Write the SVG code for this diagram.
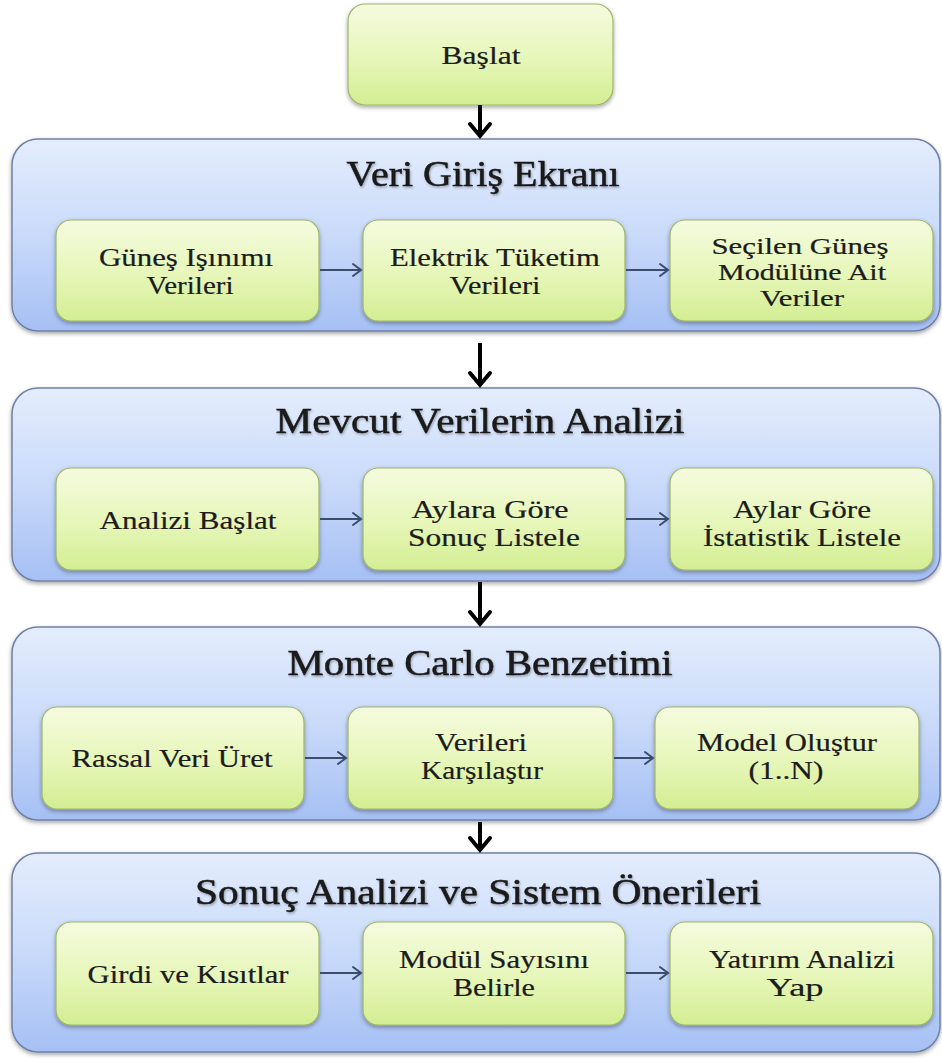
<svg xmlns="http://www.w3.org/2000/svg" width="942" height="1059" viewBox="0 0 942 1059">
<defs>
<linearGradient id="gBlue" x1="0" y1="0" x2="0" y2="1">
<stop offset="0" stop-color="#e4edfd"/>
<stop offset="0.5" stop-color="#c9dafa"/>
<stop offset="1" stop-color="#a6c0f4"/>
</linearGradient>
<linearGradient id="gGreen" x1="0" y1="0" x2="0" y2="1">
<stop offset="0" stop-color="#f5fbdf"/>
<stop offset="0.55" stop-color="#e6f6b8"/>
<stop offset="1" stop-color="#d3ee93"/>
</linearGradient>
<filter id="sh" x="-5%" y="-10%" width="110%" height="125%">
<feDropShadow dx="0" dy="2" stdDeviation="2" flood-color="#000" flood-opacity="0.35"/>
</filter>
<filter id="tsh" x="-5%" y="-20%" width="110%" height="150%">
<feDropShadow dx="1" dy="1.5" stdDeviation="1" flood-color="#000" flood-opacity="0.3"/>
</filter>
<marker id="ah" markerUnits="userSpaceOnUse" markerWidth="30" markerHeight="30" viewBox="-15 -15 30 30" refX="0" refY="0" orient="auto">
<path d="M-12,-10 L0,0 L-12,10" fill="none" stroke="#000" stroke-width="4" stroke-linecap="round" stroke-linejoin="miter"/>
</marker>
<marker id="ab" markerUnits="userSpaceOnUse" markerWidth="20" markerHeight="20" viewBox="-10 -10 20 20" refX="0" refY="0" orient="auto">
<path d="M-8,-6 L0,0 L-8,6" fill="none" stroke="#3b4c6c" stroke-width="2" stroke-linecap="round"/>
</marker>
</defs>
<style>
.cont{fill:url(#gBlue);stroke:#6f81a8;stroke-width:1.5;filter:url(#sh)}
.box{fill:url(#gGreen);stroke:#9db56a;stroke-width:1.2;filter:url(#sh)}
.t{font-family:"Liberation Serif","Times New Roman",serif;font-size:25px;fill:#1c1c1c;text-anchor:middle;stroke:#1c1c1c;stroke-width:0.2}
.t3{font-size:23px}
.ti{font-family:"Liberation Serif","Times New Roman",serif;font-size:35px;fill:#1a1a1a;text-anchor:middle;stroke:#1a1a1a;stroke-width:0.5;filter:url(#tsh)}
.va{stroke:#000;stroke-width:4;fill:none;marker-end:url(#ah)}
.ha{stroke:#3b4c6c;stroke-width:2;fill:none;marker-end:url(#ab)}
</style>
<rect width="942" height="1059" fill="#ffffff"/>

<g id="n-baslat">
<rect class="box" x="348" y="4" width="265" height="101" rx="17"/>
<text class="t" x="481" y="64" textLength="79" lengthAdjust="spacingAndGlyphs">Başlat</text>
</g>

<g id="c-veri-giris">
<rect class="cont" x="12" y="139" width="928" height="192" rx="26"/>
<text class="ti" x="483" y="186" textLength="273" lengthAdjust="spacingAndGlyphs">Veri Giriş Ekranı</text>
</g>
<g id="n-gunes-isinimi">
<rect class="box" x="56" y="220" width="263" height="101" rx="15"/>
<text class="t" x="186" y="266" textLength="174" lengthAdjust="spacingAndGlyphs">Güneş Işınımı</text>
<text class="t" x="190" y="294" textLength="87" lengthAdjust="spacingAndGlyphs">Verileri</text>
</g>
<g id="n-elektrik">
<rect class="box" x="363" y="220" width="262" height="101" rx="15"/>
<text class="t" x="495" y="266" textLength="210" lengthAdjust="spacingAndGlyphs">Elektrik Tüketim</text>
<text class="t" x="495" y="294" textLength="91" lengthAdjust="spacingAndGlyphs">Verileri</text>
</g>
<g id="n-secilen">
<rect class="box" x="670" y="220" width="263" height="101" rx="15"/>
<text class="t t3" x="800" y="254" textLength="177" lengthAdjust="spacingAndGlyphs">Seçilen Güneş</text>
<text class="t t3" x="802" y="280" textLength="168" lengthAdjust="spacingAndGlyphs">Modülüne Ait</text>
<text class="t t3" x="802" y="306" textLength="84" lengthAdjust="spacingAndGlyphs">Veriler</text>
</g>

<g id="c-mevcut">
<rect class="cont" x="12" y="388" width="928" height="193" rx="26"/>
<text class="ti" x="480" y="433" textLength="409" lengthAdjust="spacingAndGlyphs">Mevcut Verilerin Analizi</text>
</g>
<g id="n-analizi-baslat">
<rect class="box" x="56" y="468" width="263" height="102" rx="15"/>
<text class="t" x="188" y="529" textLength="177" lengthAdjust="spacingAndGlyphs">Analizi Başlat</text>
</g>
<g id="n-aylara">
<rect class="box" x="363" y="468" width="262" height="102" rx="15"/>
<text class="t" x="490" y="518" textLength="157" lengthAdjust="spacingAndGlyphs">Aylara Göre</text>
<text class="t" x="494" y="546" textLength="172" lengthAdjust="spacingAndGlyphs">Sonuç Listele</text>
</g>
<g id="n-aylar-istatistik">
<rect class="box" x="670" y="468" width="263" height="102" rx="15"/>
<text class="t" x="802" y="518" textLength="138" lengthAdjust="spacingAndGlyphs">Aylar Göre</text>
<text class="t" x="802" y="546" textLength="198" lengthAdjust="spacingAndGlyphs">İstatistik Listele</text>
</g>

<g id="c-monte-carlo">
<rect class="cont" x="12" y="627" width="928" height="193" rx="26"/>
<text class="ti" x="480" y="675" textLength="385" lengthAdjust="spacingAndGlyphs">Monte Carlo Benzetimi</text>
</g>
<g id="n-rassal">
<rect class="box" x="42" y="707" width="262" height="102" rx="15"/>
<text class="t" x="172" y="767" textLength="201" lengthAdjust="spacingAndGlyphs">Rassal Veri Üret</text>
</g>
<g id="n-karsilastir">
<rect class="box" x="348" y="707" width="265" height="102" rx="15"/>
<text class="t" x="481" y="751" textLength="92" lengthAdjust="spacingAndGlyphs">Verileri</text>
<text class="t" x="482" y="779" textLength="122" lengthAdjust="spacingAndGlyphs">Karşılaştır</text>
</g>
<g id="n-model">
<rect class="box" x="655" y="707" width="264" height="102" rx="15"/>
<text class="t" x="787" y="751" textLength="180" lengthAdjust="spacingAndGlyphs">Model Oluştur</text>
<text class="t" x="786" y="779" textLength="75" lengthAdjust="spacingAndGlyphs">(1..N)</text>
</g>

<g id="c-sonuc">
<rect class="cont" x="12" y="853" width="928" height="199" rx="26"/>
<text class="ti" x="478" y="904" textLength="566" lengthAdjust="spacingAndGlyphs">Sonuç Analizi ve Sistem Önerileri</text>
</g>
<g id="n-girdi">
<rect class="box" x="56" y="922" width="263" height="103" rx="15"/>
<text class="t" x="188" y="983" textLength="201" lengthAdjust="spacingAndGlyphs">Girdi ve Kısıtlar</text>
</g>
<g id="n-modul-sayisi">
<rect class="box" x="363" y="922" width="262" height="103" rx="15"/>
<text class="t" x="494" y="968" textLength="190" lengthAdjust="spacingAndGlyphs">Modül Sayısını</text>
<text class="t" x="494" y="996" textLength="82" lengthAdjust="spacingAndGlyphs">Belirle</text>
</g>
<g id="n-yatirim">
<rect class="box" x="670" y="922" width="263" height="103" rx="15"/>
<text class="t" x="802" y="968" textLength="186" lengthAdjust="spacingAndGlyphs">Yatırım Analizi</text>
<text class="t" x="795" y="996" textLength="57" lengthAdjust="spacingAndGlyphs">Yap</text>
</g>

<g id="connectors">
<line class="va" x1="480" y1="105" x2="480" y2="136"/>
<line class="va" x1="480" y1="343" x2="480" y2="385"/>
<line class="va" x1="480" y1="582" x2="480" y2="624"/>
<line class="va" x1="480" y1="822" x2="480" y2="850"/>
<line class="ha" x1="320" y1="270" x2="361" y2="270"/>
<line class="ha" x1="626" y1="270" x2="668" y2="270"/>
<line class="ha" x1="320" y1="519" x2="361" y2="519"/>
<line class="ha" x1="626" y1="519" x2="668" y2="519"/>
<line class="ha" x1="305" y1="758" x2="346" y2="758"/>
<line class="ha" x1="614" y1="758" x2="653" y2="758"/>
<line class="ha" x1="320" y1="973" x2="361" y2="973"/>
<line class="ha" x1="626" y1="973" x2="668" y2="973"/>
</g>
</svg>
